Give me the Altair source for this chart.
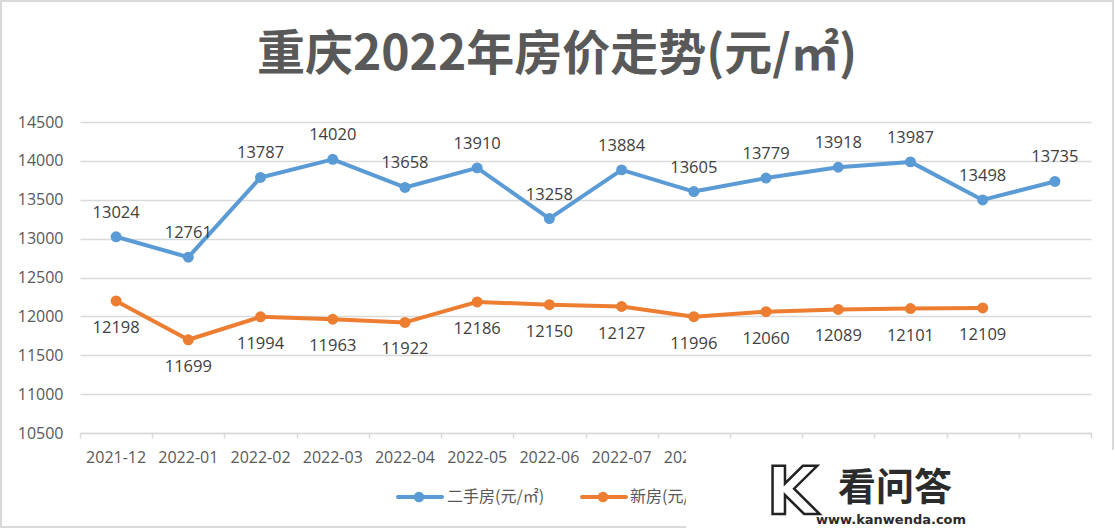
import altair as alt
import pandas as pd

# ---------------- data ----------------
months = ["2021-12", "2022-01", "2022-02", "2022-03", "2022-04", "2022-05", "2022-06",
          "2022-07", "2022-08", "2022-09", "2022-10", "2022-11", "2022-12", "2023-01"]
second_hand = [13024, 12761, 13787, 14020, 13658, 13910, 13258, 13884, 13605, 13779,
               13918, 13987, 13498, 13735]
new_home = [12198, 11699, 11994, 11963, 11922, 12186, 12150, 12127, 11996, 12060,
            12089, 12101, 12109]
series_names = ["二手房(元/㎡)", "新房(元/㎡)"]
series_colors = ["#5B9BD5", "#ED7D31"]
y_ticks = [10500, 11000, 11500, 12000, 12500, 13000, 13500, 14000, 14500]
title_text = "重庆2022年房价走势(元/㎡)"
watermark_name = "看问答"
watermark_url = "www.kanwenda.com"

df_b = pd.DataFrame({"month": months, "price": second_hand, "series": series_names[0]})
df_o = pd.DataFrame({"month": months[:len(new_home)], "price": new_home, "series": series_names[1]})
df_m = pd.DataFrame({"month": months})

W, H = 1011, 311
LEFT, TOP = 80, 122
LABEL_FONT = "Open Sans"
CJK = "Noto Sans CJK SC"

x_enc = alt.X("month:N", sort=months, bandPosition=0.5,
              scale=alt.Scale(type="band", paddingInner=0, paddingOuter=0),
              axis=alt.Axis(title=None, labels=False, grid=False, domain=True,
                            domainColor="#D9D9D9", domainWidth=1.5, ticks=True,
                            tickBand="extent", tickColor="#D9D9D9", tickWidth=1.5,
                            tickSize=5, zindex=0))
y_enc = alt.Y("price:Q", scale=alt.Scale(domain=[10500, 14500], nice=False, zero=False),
              axis=alt.Axis(title=None, values=y_ticks, format="d", grid=True,
                            gridColor="#D9D9D9", gridWidth=1.5, domain=False, ticks=False,
                            labelPadding=17, labelFontSize=16, labelColor="#595959",
                            labelFont=LABEL_FONT, zindex=0))

one = pd.DataFrame({"k": [0]})

frame = alt.Chart(one).mark_rect(fill=None, stroke="#D9D9D9", strokeWidth=2).encode(
    x=alt.value(1 - LEFT), x2=alt.value(1113 - LEFT),
    y=alt.value(1 - TOP), y2=alt.value(527 - TOP))

layers = [frame]
for df, col, dy in [(df_b, series_colors[0], -24), (df_o, series_colors[1], 27)]:
    base = alt.Chart(df).encode(x=x_enc, y=y_enc)
    layers.append(base.mark_line(color=col, strokeWidth=4, strokeJoin="round", strokeCap="round"))
    layers.append(base.mark_point(color=col, filled=True, opacity=1, size=120))
    layers.append(base.mark_text(dy=dy, fontSize=16.5, color="#404040", font=LABEL_FONT)
                  .encode(text=alt.Text("price:Q", format="d")))

# x-axis category labels (as text so the overlay can cover them)
layers.append(alt.Chart(df_m).mark_text(fontSize=16, color="#595959", font=LABEL_FONT,
                                        baseline="middle").encode(
    x=x_enc, y=alt.value(H + 25), text="month:N"))

# manual legend
leg_pos = [(398, 447), (582, 630)]
for name, col, (lx, tx) in zip(series_names, series_colors, leg_pos):
    ld = pd.DataFrame({"name": [name]})
    layers.append(alt.Chart(ld).mark_rule(color=col, strokeWidth=4, strokeCap="round").encode(
        x=alt.value(lx - LEFT), x2=alt.value(lx + 44 - LEFT), y=alt.value(497 - TOP)))
    layers.append(alt.Chart(ld).mark_point(color=col, filled=True, opacity=1, size=110).encode(
        x=alt.value(lx + 21 - LEFT), y=alt.value(497 - TOP)))
    layers.append(alt.Chart(ld).mark_text(align="left", baseline="middle", fontSize=16,
                                          color="#595959", font=CJK).encode(
        x=alt.value(tx - LEFT), y=alt.value(497 - TOP), text="name:N"))

# watermark overlay
layers.append(alt.Chart(one).mark_rect(fill="white", stroke=None).encode(
    x=alt.value(686 - LEFT), x2=alt.value(1115 - LEFT),
    y=alt.value(450 - TOP), y2=alt.value(530 - TOP)))
wm = pd.DataFrame({"k": ["K"], "n": [watermark_name], "u": [watermark_url]})
layers.append(alt.Chart(wm).mark_text(fontSize=66, fontWeight="bold", fill="white",
                                      stroke="#222222", strokeWidth=2.5, font="DejaVu Sans",
                                      baseline="middle", align="center").encode(
    x=alt.value(792 - LEFT), y=alt.value(494 - TOP), text="k:N"))
layers.append(alt.Chart(wm).mark_text(fontSize=38, fontWeight="bold", color="#2b2b2b",
                                      font=CJK, baseline="middle", align="left").encode(
    x=alt.value(838 - LEFT), y=alt.value(489 - TOP), text="n:N"))
layers.append(alt.Chart(wm).mark_text(fontSize=13, fontWeight="bold", color="#2b2b2b",
                                      font="DejaVu Sans", baseline="middle", align="left").encode(
    x=alt.value(816 - LEFT), y=alt.value(520 - TOP), text="u:N"))

# title
tt = pd.DataFrame({"t": [title_text]})
layers.append(alt.Chart(tt).mark_text(fontSize=48, fontWeight="bold", color="#595959",
                                      font=CJK, baseline="middle", align="center").encode(
    x=alt.value(557 - LEFT), y=alt.value(56 - TOP), text="t:N"))

chart = alt.layer(*layers).properties(
    width=W, height=H,
    padding={"left": LEFT, "top": TOP, "right": 1115 - LEFT - W, "bottom": 530 - TOP - H},
    autosize="none",
    background="white",
).configure_view(stroke=None)

chart.save("out.html", embed_options={"renderer": "svg", "actions": False})
